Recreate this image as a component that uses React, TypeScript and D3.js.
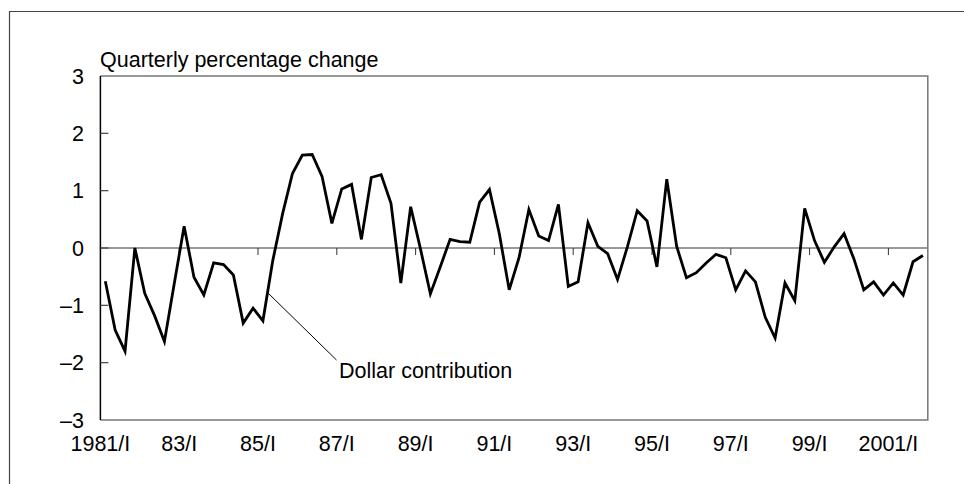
import React, { useEffect, useRef } from "react";
import * as d3 from "d3";

// quarterly values, 1981/I .. 2001/IV
const dollarContribution = [
  -0.58, -1.43, -1.8, 0.0, -0.79, -1.18, -1.63, -0.62, 0.38, -0.51, -0.82, -0.26,
  -0.29, -0.47, -1.31, -1.05, -1.27, -0.22, 0.6, 1.3, 1.62, 1.63, 1.25, 0.43,
  1.03, 1.11, 0.15, 1.23, 1.28, 0.78, -0.61, 0.72, -0.02, -0.8, -0.33, 0.15,
  0.11, 0.1, 0.8, 1.02, 0.25, -0.73, -0.17, 0.67, 0.21, 0.13, 0.76, -0.67,
  -0.59, 0.44, 0.03, -0.1, -0.55, 0.02, 0.65, 0.47, -0.33, 1.2, 0.03, -0.52,
  -0.43, -0.26, -0.11, -0.17, -0.73, -0.4, -0.59, -1.21, -1.57, -0.61, -0.92, 0.69,
  0.13, -0.25, 0.02, 0.25, -0.19, -0.73, -0.59, -0.82, -0.61, -0.82, -0.24, -0.13,
];

const xTickLabels = ["1981/I", "83/I", "85/I", "87/I", "89/I", "91/I", "93/I", "95/I", "97/I", "99/I", "2001/I"];
const yTicks = [-3, -2, -1, 0, 1, 2, 3];

export default function App() {
  const svgRef = useRef<SVGSVGElement>(null);

  useEffect(() => {
    const width = 964;
    const height = 484;
    const svg = d3.select(svgRef.current).attr("width", width).attr("height", height);
    svg.selectAll("*").remove();

    const font = "'Liberation Sans', Arial, sans-serif";
    const fs = 21.5;

    const x = d3.scaleLinear().domain([0, dollarContribution.length]).range([100.4, 927.8]);
    const y = d3.scaleLinear().domain([-3, 3]).range([420, 76]);

    // outer frame
    svg.append("path")
      .attr("d", `M9.5,${height + 2}V11.5H${width + 2}`)
      .attr("fill", "none")
      .attr("stroke", "#444")
      .attr("stroke-width", 1.2);

    // plot frame (top, right, bottom)
    svg.append("path")
      .attr("d", `M${x.range()[0]},${y(3)}H${x.range()[1]}V${y(-3)}H${x.range()[0]}`)
      .attr("fill", "none")
      .attr("stroke", "#777")
      .attr("stroke-width", 1.5);

    // zero line
    svg.append("line")
      .attr("x1", x.range()[0]).attr("x2", x.range()[1])
      .attr("y1", y(0)).attr("y2", y(0))
      .attr("stroke", "#777")
      .attr("stroke-width", 1.5);

    // y axis
    svg.append("line")
      .attr("x1", x.range()[0]).attr("x2", x.range()[0])
      .attr("y1", y(3)).attr("y2", y(-3))
      .attr("stroke", "#000")
      .attr("stroke-width", 1.5);

    const yg = svg.append("g");
    yTicks.forEach((t) => {
      if (t !== 3 && t !== -3) {
        yg.append("line")
          .attr("x1", x.range()[0]).attr("x2", x.range()[0] + 8)
          .attr("y1", y(t)).attr("y2", y(t))
          .attr("stroke", "#444")
          .attr("stroke-width", 1.2);
      }
      yg.append("text")
        .attr("x", 84)
        .attr("y", y(t))
        .attr("dy", "0.35em")
        .attr("text-anchor", "end")
        .attr("font-family", font)
        .attr("font-size", fs)
        .text(t < 0 ? `\u2013${Math.abs(t)}` : `${t}`);
    });

    // x ticks on zero line + labels
    const xg = svg.append("g");
    xTickLabels.forEach((lab, i) => {
      const q = i * 8;
      if (i > 0) {
        xg.append("line")
          .attr("x1", x(q)).attr("x2", x(q))
          .attr("y1", y(0)).attr("y2", y(0) + 7)
          .attr("stroke", "#333")
          .attr("stroke-width", 1);
      }
      xg.append("text")
        .attr("x", x(q))
        .attr("y", 451)
        .attr("text-anchor", "middle")
        .attr("font-family", font)
        .attr("font-size", fs)
        .text(lab);
    });

    // series
    const line = d3.line<number>()
      .x((_, i) => x(i + 0.5))
      .y((d) => y(d));
    svg.append("path")
      .datum(dollarContribution)
      .attr("d", line)
      .attr("fill", "none")
      .attr("stroke", "#000")
      .attr("stroke-width", 2.8)
      .attr("stroke-linejoin", "miter");

    // annotation
    svg.append("line")
      .attr("x1", 268.3).attr("y1", 293.3)
      .attr("x2", 336.5).attr("y2", 360)
      .attr("stroke", "#000")
      .attr("stroke-width", 1);
    svg.append("text")
      .attr("x", 339)
      .attr("y", 378)
      .attr("font-family", font)
      .attr("font-size", fs)
      .text("Dollar contribution");

    svg.append("text")
      .attr("x", 100)
      .attr("y", 66.5)
      .attr("font-family", font)
      .attr("font-size", fs)
      .text("Quarterly percentage change");
  }, []);

  return <svg ref={svgRef} style={{ position: "absolute", left: 0, top: 0, background: "#fff" }} />;
}
